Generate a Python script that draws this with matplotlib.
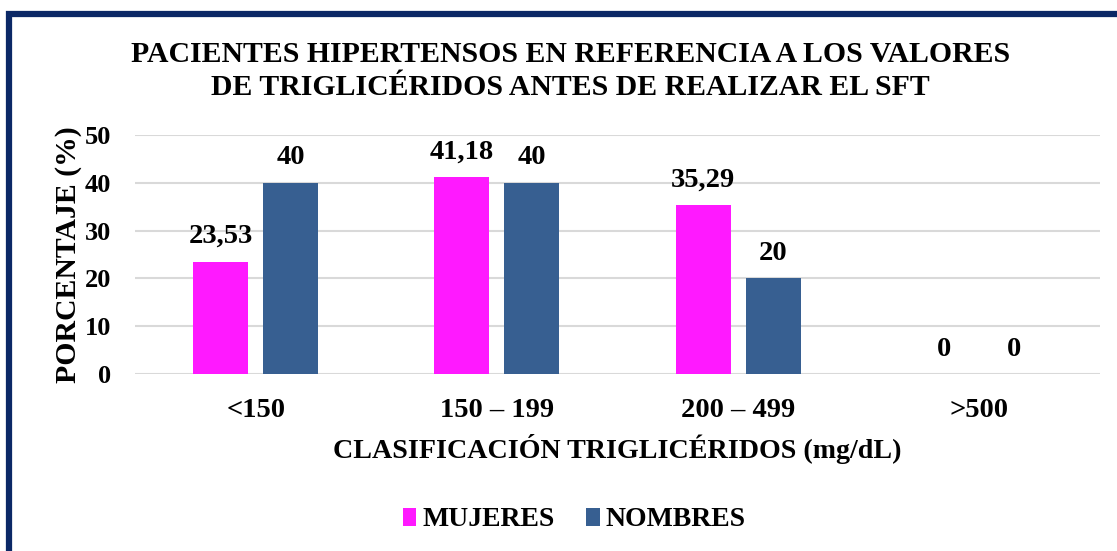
import matplotlib.pyplot as plt
import numpy as np
from matplotlib.patches import Rectangle

# data
categories = ['<150', '150 – 199', '200 – 499', '>500']
mujeres = [23.53, 41.18, 35.29, 0]
hombres = [40, 40, 20, 0]
series_names = ['MUJERES', 'NOMBRES']
y_ticks = [0, 10, 20, 30, 40, 50]

plt.rcParams['font.family'] = ['Liberation Serif', 'DejaVu Serif']
plt.rcParams['font.weight'] = 'bold'

color_m = '#FF19FF'
color_h = '#375F91'

fig = plt.figure(figsize=(11.17, 5.51), dpi=100)
ax = fig.add_axes([135 / 1117, 1 - 374 / 551, 965 / 1117, 239 / 551])

x = np.arange(len(categories))
width = 0.228
offset = 0.145
bars_m = ax.bar(x - offset, mujeres, width, color=color_m, label=series_names[0], zorder=3)
bars_h = ax.bar(x + offset, hombres, width, color=color_h, label=series_names[1], zorder=3)


def fmt(v):
    if float(v).is_integer():
        return '%d' % v
    return ('%.2f' % v).replace('.', ',')


for bars, vals in [(bars_m, mujeres), (bars_h, hombres)]:
    for b, v in zip(bars, vals):
        ax.annotate(fmt(v), (b.get_x() + b.get_width() / 2, v),
                    xytext=(0, 9), textcoords='offset points',
                    ha='center', va='bottom', fontsize=20.5, fontweight='bold')

ax.set_xlim(-0.5, 3.5)
ax.set_ylim(0, 50)
ax.set_yticks(y_ticks)
ax.set_xticks(x)
ax.set_xticklabels(categories, fontsize=20.5, fontweight='bold')
ax.tick_params(axis='y', labelsize=19, length=0, pad=17)
ax.tick_params(axis='x', length=0, pad=17)
ax.grid(axis='y', color='#D9D9D9', linewidth=1.5, zorder=0)
for s in ax.spines.values():
    s.set_visible(False)

ax.set_xlabel('CLASIFICACIÓN TRIGLICÉRIDOS (mg/dL)', fontsize=20.2, fontweight='bold', labelpad=8)
ax.set_ylabel('PORCENTAJE (%)', fontsize=21.4, fontweight='bold', labelpad=2)

fig.text(0.511, 1 - 71 / 551,
         'PACIENTES HIPERTENSOS EN REFERENCIA A LOS VALORES\nDE TRIGLICÉRIDOS ANTES DE REALIZAR EL SFT',
         ha='center', va='center', fontsize=21.4, fontweight='bold', linespacing=1.27)

fig.legend(loc='center', bbox_to_anchor=(0.514, 1 - 520 / 551), ncol=2, frameon=False,
           fontsize=20, handlelength=0.5, handleheight=0.6, handletextpad=0.2, columnspacing=1.15)

# dark border frame around the chart
fig.patches.append(Rectangle((9.5 / 1117, -0.1), 1.2, 1 - 13.5 / 551 + 0.1,
                             transform=fig.transFigure, fill=False,
                             edgecolor='#0B2866', linewidth=4.5))

fig.savefig('out.png', dpi=100)
